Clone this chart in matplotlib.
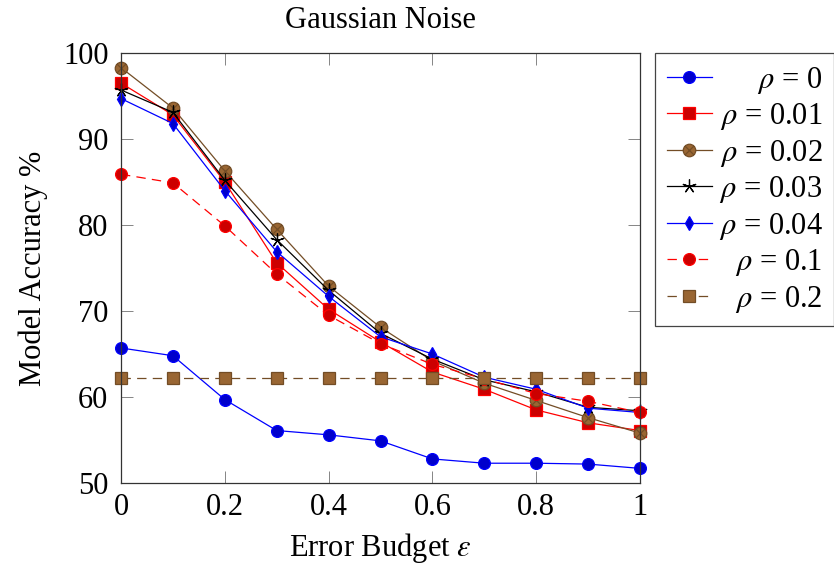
import matplotlib
matplotlib.use('Agg')
import matplotlib.pyplot as plt
from matplotlib.path import Path

plt.rcParams['font.family'] = ['Liberation Serif', 'DejaVu Serif']
plt.rcParams['mathtext.fontset'] = 'stix'
plt.rcParams['font.size'] = 22

# ---------------- data ----------------
eps = [0.0, 0.1, 0.2, 0.3, 0.4, 0.5, 0.6, 0.7, 0.8, 0.9, 1.0]
rho_0 = [65.7, 64.8, 59.7, 56.1, 55.6, 54.9, 52.8, 52.3, 52.3, 52.2, 51.7]
rho_001 = [96.5, 92.8, 85.0, 75.6, 70.2, 66.4, 62.9, 60.9, 58.5, 57.0, 56.1]
rho_002 = [98.3, 93.6, 86.3, 79.5, 72.9, 68.1, 64.2, 61.6, 59.6, 57.6, 55.8]
rho_003 = [95.7, 93.1, 85.2, 78.3, 72.4, 67.4, 64.4, 62.0, 60.6, 58.8, 58.4]
rho_004 = [94.7, 91.8, 84.0, 76.9, 71.7, 67.0, 65.0, 62.3, 60.9, 58.7, 58.2]
rho_01 = [85.9, 84.9, 79.9, 74.3, 69.5, 66.2, 63.8, 62.1, 60.4, 59.5, 58.2]
rho_02 = [62.2, 62.2, 62.2, 62.2, 62.2, 62.2, 62.2, 62.2, 62.2, 62.2, 62.2]

series_labels = [r'$\rho$ = 0', r'$\rho$ = 0.01', r'$\rho$ = 0.02', r'$\rho$ = 0.03',
                 r'$\rho$ = 0.04', r'$\rho$ = 0.1', r'$\rho$ = 0.2']
xtick_vals = [0, 0.2, 0.4, 0.6, 0.8, 1.0]
xtick_labels = ['0', '0.2', '0.4', '0.6', '0.8', '1']
ytick_vals = [50, 60, 70, 80, 90, 100]
ytick_labels = ['50', '60', '70', '80', '90', '100']

# ---------------- styles ----------------
r = 0.7071
otimes = Path.make_compound_path(
    Path.unit_circle(),
    Path([(-r, -r), (r, r), (-r, r), (r, -r)],
         [Path.MOVETO, Path.LINETO, Path.MOVETO, Path.LINETO]))

lw = 0.9
dash = (0, (7.5, 5))
blue, blue_f = '#0000ff', '#0000cc'
red, red_f = '#ff0000', '#cc0000'
brown, brown_f = '#734d26', '#996633'

styles = [
    dict(color=blue, ls='-', marker='o', ms=8.5, mfc=blue_f, mec=blue),
    dict(color=red, ls='-', marker='s', ms=8.5, mfc=red_f, mec=red),
    dict(color=brown, ls='-', marker=otimes, ms=9, mfc=brown_f, mec=brown),
    dict(color='black', ls='-', marker=(5, 2, 0), ms=10, mfc='black', mec='black'),
    dict(color=blue, ls='-', marker='d', ms=7.5, mfc=blue_f, mec=blue),
    dict(color=red, ls=dash, marker='o', ms=8.5, mfc=red_f, mec=red),
    dict(color=brown, ls=dash, marker='s', ms=8.5, mfc=brown_f, mec=brown),
]
all_series = [rho_0, rho_001, rho_002, rho_003, rho_004, rho_01, rho_02]

fig = plt.figure(figsize=(8.34, 5.67), dpi=100)
ax = fig.add_axes([121 / 834, 1 - 483 / 567, 519 / 834, 430 / 567])

for ys, lab, st in zip(all_series, series_labels, styles):
    ax.plot(eps, ys, label=lab, lw=lw, mew=lw, clip_on=False, **st)

ax.set_xlim(0, 1)
ax.set_ylim(50, 100)
ax.set_xticks(xtick_vals)
ax.set_xticklabels(xtick_labels)
ax.set_yticks(ytick_vals)
ax.set_yticklabels(ytick_labels)
ax.tick_params(direction='in', length=8.5, width=0.5, color='#555555',
               top=True, right=True, labelsize=22)
ax.tick_params(axis='x', pad=7)
ax.tick_params(axis='y', pad=9)
for sp in ax.spines.values():
    sp.set_linewidth(0.9)
    sp.set_color('#333333')

ax.set_title('Gaussian Noise', pad=18, fontsize=22)
ax.set_xlabel(r'Error Budget $\varepsilon$', fontsize=22, labelpad=7)
ax.set_ylabel('Model Accuracy %', fontsize=22, labelpad=11)

leg = ax.legend(loc='upper left', bbox_to_anchor=(655 / 834, 1 - 53 / 567),
                bbox_transform=fig.transFigure, borderaxespad=0,
                handlelength=1.47, handletextpad=0.23, labelspacing=0.18,
                borderpad=0.38, fancybox=False, framealpha=1,
                edgecolor='#444444', fontsize=22)
leg.get_frame().set_linewidth(0.9)

# right-align legend texts (as in pgfplots)
fig.canvas.draw()
rend = fig.canvas.get_renderer()
texts = leg.get_texts()
widths = [t.get_window_extent(rend).width for t in texts]
W = max(widths)
col = leg._legend_handle_box.get_children()[0]
for row, w in zip(col.get_children(), widths):
    row.sep = row.sep + (W - w) * 72 / fig.dpi

fig.savefig('out.png', dpi=100)
